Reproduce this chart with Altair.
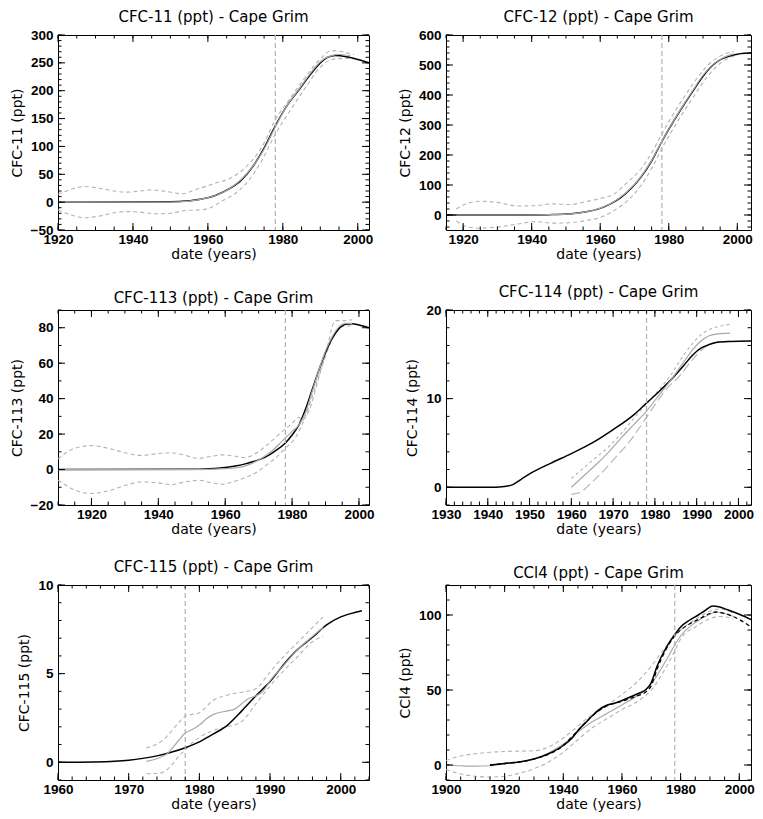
import altair as alt
import pandas as pd

# ---------------- data ----------------
# CFC-11
C11_BLACK_YR = [1920, 1950, 1955, 1958, 1962, 1966, 1969, 1972, 1975, 1978, 1981, 1984, 1987, 1990, 1992, 1994, 1997, 2000, 2003]
C11_BLACK_V = [0, 0.5, 2.5, 5, 12, 25, 40, 64, 97, 137, 172, 199, 226, 250, 260, 263, 261, 256, 250]
C11_GREY_YR = [1920, 1950, 1955, 1960, 1965, 1970, 1975, 1978, 1981, 1984, 1987, 1990, 1993, 1995, 1998]
C11_GREY_V = [0, 0.3, 2, 8, 21, 48, 95, 135, 172, 200, 228, 252, 263, 265, 263]
C11_UP_YR = [1920, 1924, 1927, 1931, 1935, 1938, 1942, 1945, 1949, 1953, 1957, 1962, 1966, 1970, 1974.5, 1978, 1981.5, 1985, 1990, 1993, 1996.5, 1999]
C11_UP_V = [14, 24, 28, 25, 20, 18, 20, 22, 19, 15, 23, 34, 43, 62, 100, 148, 182, 215, 257, 272, 269, 265]
C11_LO_YR = [1920, 1924, 1927, 1931, 1935, 1938, 1942, 1946, 1950, 1954, 1958, 1961, 1964, 1967, 1970, 1974, 1978, 1982, 1986, 1990, 1993, 1996, 1999]
C11_LO_V = [-14, -24, -28, -25, -19, -17, -18, -21, -20, -15, -14, -9, 3, 14, 32, 70, 122, 165, 205, 242, 256, 258, 258]

# CFC-12
C12_BLACK_YR = [1915, 1940, 1945, 1950, 1955, 1960, 1963, 1966, 1969, 1972, 1975, 1978, 1981, 1984, 1987, 1990, 1992, 1994, 1996, 1998, 2000, 2002, 2004]
C12_BLACK_V = [0, 0, 1, 3, 9, 22, 37, 58, 88, 128, 180, 245, 305, 360, 412, 462, 490, 510, 523, 531, 536, 539, 540]
C12_GREY_YR = [1918, 1940, 1945, 1950, 1955, 1960, 1965, 1970, 1975, 1978, 1981, 1984, 1987, 1990, 1993, 1996, 1999]
C12_GREY_V = [0, 0, 1, 3, 9, 23, 52, 102, 182, 246, 306, 362, 415, 466, 503, 525, 537]
C12_UP_YR = [1918, 1921, 1925, 1930, 1936, 1941, 1946, 1951, 1956, 1960, 1964, 1968, 1972, 1975, 1978, 1981, 1984, 1987, 1990, 1993, 1996, 1999]
C12_UP_V = [20, 38, 46, 42, 30, 31, 37, 35, 45, 55, 70, 110, 155, 207, 270, 330, 385, 436, 482, 515, 535, 545]
C12_LO_YR = [1918, 1921, 1925, 1930, 1936, 1941, 1946, 1951, 1956, 1960, 1964, 1968, 1972, 1975, 1978, 1981, 1984, 1987, 1990, 1993, 1996, 1999]
C12_LO_V = [-20, -38, -44, -40, -30, -22, -27, -26, -18, -8, 15, 48, 100, 155, 222, 282, 338, 390, 442, 484, 514, 530]

# CFC-113
C113_BLACK_YR = [1910, 1950, 1955, 1960, 1963, 1966, 1969, 1972, 1975, 1978, 1980, 1982, 1984, 1986, 1988, 1990, 1992, 1994, 1996, 1998, 2000, 2003]
C113_BLACK_V = [0, 0.2, 0.5, 1.2, 2, 3.2, 4.8, 7, 10.5, 15, 19.5, 25, 34, 45, 56, 66, 74, 79.5, 82, 82.3, 81.5, 80]
C113_GREY_YR = [1910, 1950, 1960, 1965, 1968, 1971, 1974, 1977, 1980, 1982, 1984, 1986, 1988, 1990, 1992, 1994, 1996, 1998]
C113_GREY_V = [0, 0, 0.5, 1.5, 3.5, 6.5, 10.5, 16, 21.5, 25, 32, 44, 56, 67, 75, 80.5, 82.5, 82.5]
C113_UP_YR = [1910, 1915, 1920, 1925, 1930, 1935, 1940, 1944, 1948, 1952, 1956, 1959, 1963, 1966, 1969, 1972, 1975, 1978, 1980, 1982, 1983, 1985, 1988, 1990, 1993, 1995, 1998]
C113_UP_V = [6, 12, 13.5, 12, 9.5, 8, 9, 9.5, 8, 6.3, 7.5, 8.3, 7.5, 6.8, 9, 13, 18, 23, 26, 29.5, 28, 33, 52, 65, 84, 84, 84.5]
C113_LO_YR = [1910, 1915, 1920, 1925, 1930, 1935, 1940, 1944, 1948, 1952, 1956, 1959, 1963, 1966, 1969, 1972, 1975, 1978, 1981, 1984, 1987, 1990, 1993, 1996, 1998]
C113_LO_V = [-6, -11.5, -13.5, -12, -9, -7, -7.5, -8.5, -7, -6, -7.5, -8.3, -6.5, -4.5, -2, 2, 6.5, 12, 18, 30, 47, 64, 77, 81, 81]

# CFC-114
C114_BLACK_YR = [1930, 1940, 1944, 1946, 1948, 1950, 1955, 1960, 1965, 1970, 1975, 1978, 1981, 1984, 1987, 1989, 1991, 1993, 1995, 1998, 2003]
C114_BLACK_V = [0, 0, 0.1, 0.3, 0.9, 1.5, 2.7, 3.8, 5, 6.5, 8.2, 9.5, 10.8, 12.2, 13.8, 14.9, 15.7, 16.1, 16.35, 16.45, 16.5]
C114_GREY_YR = [1960, 1963, 1966, 1969, 1972, 1975, 1978, 1981, 1984, 1987, 1989, 1991, 1993, 1995, 1998]
C114_GREY_V = [0, 1.3, 2.6, 4, 5.6, 7.1, 8.6, 10.4, 12.2, 14.2, 15.5, 16.5, 17.1, 17.3, 17.4]
C114_UP_YR = [1960, 1963, 1966, 1969, 1972, 1975, 1978, 1981, 1984, 1987, 1989, 1991, 1993, 1995, 1998]
C114_UP_V = [1, 2.2, 3.4, 4.6, 6.1, 7.8, 9.4, 11, 12.8, 15, 16.2, 17.2, 17.8, 18.1, 18.4]
C114_LO_YR = [1960, 1962, 1965, 1968, 1971, 1974, 1977, 1980, 1983, 1986, 1989, 1992, 1995, 1998]
C114_LO_V = [-0.8, -0.6, 0.6, 2, 3.6, 5.2, 7.2, 9.3, 11.2, 12.6, 14.4, 15.8, 16.4, 16.5]

# CFC-115
C115_BLACK_YR = [1960, 1965, 1968, 1970, 1972, 1974, 1976, 1978, 1980, 1982, 1984, 1986, 1988, 1990, 1992, 1994, 1996, 1998, 2000, 2002, 2003]
C115_BLACK_V = [0, 0.02, 0.06, 0.12, 0.22, 0.36, 0.56, 0.82, 1.15, 1.6, 2.1, 2.9, 3.75, 4.55, 5.55, 6.4, 7.05, 7.75, 8.2, 8.45, 8.55]
C115_GREY_YR = [1972.5, 1974, 1975.5, 1977, 1978, 1979, 1980, 1981, 1982, 1984, 1985, 1986, 1987, 1988, 1989, 1990, 1992, 1994, 1996, 1997.5]
C115_GREY_V = [0.05, 0.2, 0.5, 1.2, 1.65, 1.85, 2.1, 2.45, 2.7, 2.9, 3.0, 3.3, 3.6, 3.75, 4.0, 4.6, 5.5, 6.4, 7.1, 7.6]
C115_UP_YR = [1972.5, 1975, 1977, 1978, 1980, 1982, 1984, 1986, 1988, 1990, 1992, 1994, 1996, 1997.5]
C115_UP_V = [0.8, 1.3, 2.2, 2.6, 2.8, 3.5, 3.8, 3.95, 4.15, 5.1, 6.0, 6.8, 7.6, 8.2]
C115_LO_YR = [1972.5, 1974.5, 1976, 1977, 1978, 1979, 1980, 1982, 1984, 1986, 1988, 1990, 1992, 1994, 1996, 1997.5]
C115_LO_V = [-0.65, -0.6, -0.2, 0.3, 0.7, 1.1, 1.4, 1.8, 2.0, 2.3, 3.3, 4.3, 5.2, 6.0, 6.8, 7.1]

# CCl4
CCL4_BLACK_YR = [1915, 1920, 1925, 1930, 1935, 1940, 1943, 1945, 1948, 1950, 1953, 1955, 1958, 1960, 1963, 1966, 1968, 1970, 1972, 1975, 1978, 1980, 1983, 1986, 1988, 1991, 1993, 1996, 2000, 2004]
CCL4_BLACK_V = [0, 1, 2, 4, 7.5, 13, 18, 23, 29, 33, 38, 40, 41.5, 43, 45.5, 48, 50, 55, 66, 78, 87, 92, 96.5, 100, 102.5, 106, 105.5, 103.5, 100.5, 97]
CCL4_BDASH_YR = [1915, 1920, 1930, 1940, 1945, 1950, 1955, 1960, 1965, 1968, 1970, 1972, 1975, 1978, 1980, 1983, 1986, 1990, 1992, 1995, 2000, 2004]
CCL4_BDASH_V = [0, 1, 4, 13, 23, 33, 39.5, 42.5, 46, 48.5, 53, 64, 77, 86, 90, 94, 97, 101, 102, 101, 97, 92]
CCL4_GREY_YR = [1900, 1905, 1910, 1915, 1920, 1930, 1935, 1940, 1945, 1950, 1955, 1960, 1965, 1970, 1973, 1976, 1978, 1980, 1985, 1990, 1992, 1995, 1998]
CCL4_GREY_V = [0, -0.5, -0.8, -0.5, 0.8, 4, 8, 14, 22, 29, 34.5, 40, 46, 54, 63, 73, 80, 86, 95, 100.5, 102, 101, 99]
CCL4_UP_YR = [1900, 1905, 1910, 1920, 1930, 1935, 1940, 1945, 1950, 1955, 1960, 1965, 1970, 1975, 1978, 1980, 1985, 1990, 1993, 1996, 1998]
CCL4_UP_V = [3, 6, 7.5, 9, 9.5, 12, 18, 26, 34, 40, 47, 55, 66, 79, 86, 90, 97, 102.5, 104, 103, 101]
CCL4_LO_YR = [1900, 1905, 1910, 1915, 1920, 1925, 1930, 1935, 1940, 1945, 1950, 1955, 1960, 1965, 1970, 1975, 1978, 1980, 1985, 1990, 1993, 1996, 1998]
CCL4_LO_V = [-3, -6, -7.5, -8, -7.5, -5.5, -2.5, 2, 8.5, 17, 25, 31, 37, 42, 50, 65, 76, 84, 92, 97.5, 99, 98.5, 97.5]

MARKER_YEAR = [1978]

# ---------------- styles ----------------
TITLE_FONT = "DejaVu Sans"
LABEL_FONT = "Liberation Sans"
STYLES = {
    "dash": dict(color="#b3b3b3", strokeWidth=1.1, strokeDash=[4, 3]),
    "sdash": dict(color="#b3b3b3", strokeWidth=1.1, strokeDash=[3, 3]),
    "ldash": dict(color="#b3b3b3", strokeWidth=1.1, strokeDash=[9, 4]),
    "black": dict(color="black", strokeWidth=1.5),
    "bdash": dict(color="black", strokeWidth=1.3, strokeDash=[4, 3]),
    "grey": dict(color="#a9a9a9", strokeWidth=1.2),
}
MAJOR, MINOR = 7, 3.5


def rng(a, b, step):
    out = []
    v = a
    while v <= b + 1e-9:
        out.append(round(v, 6))
        v += step
    return out


def make_panel(title, ytitle, xdom, ydom, xmaj, xmin_step, ymaj, ymin_step, series, W, H):
    rows = []
    for key, yrs, vals, style in series:
        for yy, vv in zip(yrs, vals):
            rows.append({"year": yy, "value": vv, "series": key})
    df = pd.DataFrame(rows)
    xs = alt.Scale(domain=xdom, nice=False, zero=False)
    ys = alt.Scale(domain=ydom, nice=False, zero=False)

    # the same axis definition is given to every layer so that they merge into one axis
    main_x = alt.Axis(orient="bottom", values=xmaj, format="d", ticks=False, domain=False, grid=False,
                      labelFlush=False, labelOverlap=False, labelPadding=2, title="date (years)",
                      titlePadding=2)
    main_y = alt.Axis(orient="left", values=ymaj, format="d", ticks=False, domain=False, grid=False,
                      labelFlush=False, labelOverlap=False, labelPadding=5, title=ytitle,
                      titlePadding=6)
    X = lambda: alt.X("year:Q", scale=xs, axis=main_x, title="date (years)")
    Y = lambda: alt.Y("value:Q", scale=ys, axis=main_y, title=ytitle)

    layers = []
    for key, yrs, vals, style in series:
        layers.append(
            alt.Chart(df).transform_filter(alt.datum.series == key)
            .mark_line(interpolate="monotone", clip=True, **STYLES[style])
            .encode(x=X(), y=Y(), order="year:Q")
        )

    vdf = pd.DataFrame({"year": MARKER_YEAR})
    layers.append(
        alt.Chart(vdf).mark_rule(color="#b0b0b0", strokeWidth=1.2, strokeDash=[5, 3]).encode(x=X())
    )

    # inward tick marks on all four sides, placed through the panel scales
    xmin_vals = [v for v in rng(xdom[0] - (xdom[0] % xmin_step), xdom[1], xmin_step) if xdom[0] <= v <= xdom[1]]
    ymin_vals = [v for v in rng(ydom[0] - (ydom[0] % ymin_step), ydom[1], ymin_step) if ydom[0] <= v <= ydom[1]]
    for vals, size in ((xmaj, MAJOR), (xmin_vals, MINOR)):
        tdf = pd.DataFrame({"year": vals})
        layers.append(alt.Chart(tdf).mark_rule(color="black", strokeWidth=1).encode(
            x=X(), y=alt.value(H), y2=alt.value(H - size)))
        layers.append(alt.Chart(tdf).mark_rule(color="black", strokeWidth=1).encode(
            x=X(), y=alt.value(0), y2=alt.value(size)))
    for vals, size in ((ymaj, MAJOR), (ymin_vals, MINOR)):
        tdf = pd.DataFrame({"value": vals})
        layers.append(alt.Chart(tdf).mark_rule(color="black", strokeWidth=1).encode(
            y=Y(), x=alt.value(0), x2=alt.value(size)))
        layers.append(alt.Chart(tdf).mark_rule(color="black", strokeWidth=1).encode(
            y=Y(), x=alt.value(W), x2=alt.value(W - size)))

    return alt.layer(*layers).properties(
        width=W, height=H,
        title=alt.TitleParams(title, fontSize=15, font=TITLE_FONT, fontWeight="normal", anchor="middle",
                              offset=3, frame="group", color="black"),
    )


WL, WR, H = 311, 305, 195
X20 = [1920, 1940, 1960, 1980, 2000]

p1 = make_panel("CFC-11 (ppt) - Cape Grim", "CFC-11 (ppt)", [1920, 2003], [-50, 300],
                X20, 5, [-50, 0, 50, 100, 150, 200, 250, 300], 10,
                [("u", C11_UP_YR, C11_UP_V, "dash"), ("l", C11_LO_YR, C11_LO_V, "dash"),
                 ("b", C11_BLACK_YR, C11_BLACK_V, "black"), ("g", C11_GREY_YR, C11_GREY_V, "grey")], WL, H)
p2 = make_panel("CFC-12 (ppt) - Cape Grim", "CFC-12 (ppt)", [1915, 2004], [-50, 600],
                X20, 5, [0, 100, 200, 300, 400, 500, 600], 20,
                [("u", C12_UP_YR, C12_UP_V, "dash"), ("l", C12_LO_YR, C12_LO_V, "dash"),
                 ("b", C12_BLACK_YR, C12_BLACK_V, "black"), ("g", C12_GREY_YR, C12_GREY_V, "grey")], WR, H)
p3 = make_panel("CFC-113 (ppt) - Cape Grim", "CFC-113 (ppt)", [1910, 2003], [-20, 90],
                X20, 5, [-20, 0, 20, 40, 60, 80], 10,
                [("u", C113_UP_YR, C113_UP_V, "dash"), ("l", C113_LO_YR, C113_LO_V, "dash"),
                 ("b", C113_BLACK_YR, C113_BLACK_V, "black"), ("g", C113_GREY_YR, C113_GREY_V, "grey")], WL, H)
p4 = make_panel("CFC-114 (ppt) - Cape Grim", "CFC-114 (ppt)", [1930, 2003], [-2, 20],
                [1930, 1940, 1950, 1960, 1970, 1980, 1990, 2000], 2, [0, 10, 20], 2,
                [("u", C114_UP_YR, C114_UP_V, "sdash"), ("l", C114_LO_YR, C114_LO_V, "ldash"),
                 ("b", C114_BLACK_YR, C114_BLACK_V, "black"), ("g", C114_GREY_YR, C114_GREY_V, "grey")], WR, H)
p5 = make_panel("CFC-115 (ppt) - Cape Grim", "CFC-115 (ppt)", [1960, 2004], [-1, 10],
                [1960, 1970, 1980, 1990, 2000], 2, [0, 5, 10], 1,
                [("u", C115_UP_YR, C115_UP_V, "dash"), ("l", C115_LO_YR, C115_LO_V, "dash"),
                 ("b", C115_BLACK_YR, C115_BLACK_V, "black"), ("g", C115_GREY_YR, C115_GREY_V, "grey")], WL, H)
p6 = make_panel("CCl4 (ppt) - Cape Grim", "CCl4 (ppt)", [1900, 2004], [-10, 120],
                [1900, 1920, 1940, 1960, 1980, 2000], 5, [0, 50, 100], 10,
                [("u", CCL4_UP_YR, CCL4_UP_V, "dash"), ("l", CCL4_LO_YR, CCL4_LO_V, "dash"),
                 ("g", CCL4_GREY_YR, CCL4_GREY_V, "grey"), ("d", CCL4_BDASH_YR, CCL4_BDASH_V, "bdash"),
                 ("b", CCL4_BLACK_YR, CCL4_BLACK_V, "black")], WR, H)

chart = (
    alt.concat(p1, p2, p3, p4, p5, p6, columns=2, spacing={"row": 22, "column": 22})
    .properties(padding={"left": 1, "top": 1, "right": 0, "bottom": 0}, background="white")
    .configure_view(stroke="black", strokeWidth=1)
    .configure_axis(labelFont=LABEL_FONT, labelFontSize=13.5, labelFontWeight="bold", labelColor="black",
                    titleFont=TITLE_FONT, titleFontSize=14, titleFontWeight="normal", titleColor="black")
)

chart.save("out.html", embed_options={"renderer": "svg", "actions": False})
